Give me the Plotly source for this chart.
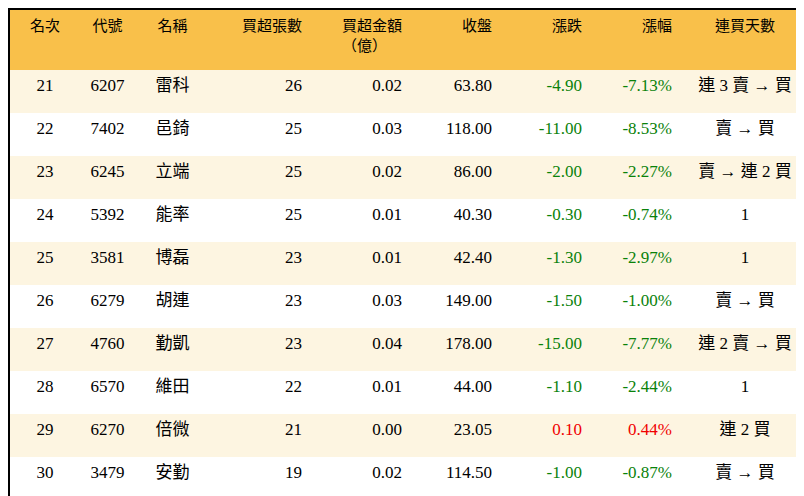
import plotly.graph_objects as go

headers = ["<br>名次", "<br>代號", "<br>名稱", "<br>買超張數", "買超金額<br>（億）", "<br>收盤", "<br>漲跌", "<br>漲幅", "<br>連買天數"]
rank = [21, 22, 23, 24, 25, 26, 27, 28, 29, 30]
code = ["6207", "7402", "6245", "5392", "3581", "6279", "4760", "6570", "6270", "3479"]
name = ["雷科", "邑錡", "立端", "能率", "博磊", "胡連", "勤凱", "維田", "倍微", "安勤"]
lots = [26, 25, 25, 25, 23, 23, 23, 22, 21, 19]
amount = ["0.02", "0.03", "0.02", "0.01", "0.01", "0.03", "0.04", "0.01", "0.00", "0.02"]
close = ["63.80", "118.00", "86.00", "40.30", "42.40", "149.00", "178.00", "44.00", "23.05", "114.50"]
change = ["-4.90", "-11.00", "-2.00", "-0.30", "-1.30", "-1.50", "-15.00", "-1.10", "0.10", "-1.00"]
pct = ["-7.13%", "-8.53%", "-2.27%", "-0.74%", "-2.97%", "-1.00%", "-7.77%", "-2.44%", "0.44%", "-0.87%"]
streak = ["連 3 賣 → 買", "賣 → 買", "賣 → 連 2 買", "1", "1", "賣 → 買", "連 2 賣 → 買", "1", "連 2 買", "賣 → 買"]

row_fill = ["#FDF5E1" if i % 2 == 0 else "white" for i in range(len(rank))]
chg_col = ["#F00000" if not c.startswith("-") else "#0A820A" for c in change]
black = ["black"] * len(rank)
aligns = ["center", "center", "center", "right", "right", "right", "right", "right", "center"]
fnt = "Liberation Serif, Noto Sans CJK TC"

fig = go.Figure(go.Table(
    columnwidth=[70, 55, 75, 100, 100, 90, 90, 90, 130],
    header=dict(values=headers, fill_color="#F9C04A", height=60, align=aligns,
                font=dict(family=fnt, size=15, color="black"),
                line=dict(color="#F9C04A", width=0)),
    cells=dict(values=[rank, code, name, lots, amount, close, change, pct, streak],
               fill_color=[row_fill] * 9, height=43, align=aligns,
               font=dict(family=fnt, size=17,
                         color=[black, black, black, black, black, black, chg_col, chg_col, black]),
               line=dict(width=0)),
))
fig.update_layout(width=804, height=496, margin=dict(l=2, r=2, t=2, b=4),
                  paper_bgcolor="black")
fig.write_html("out.html")
